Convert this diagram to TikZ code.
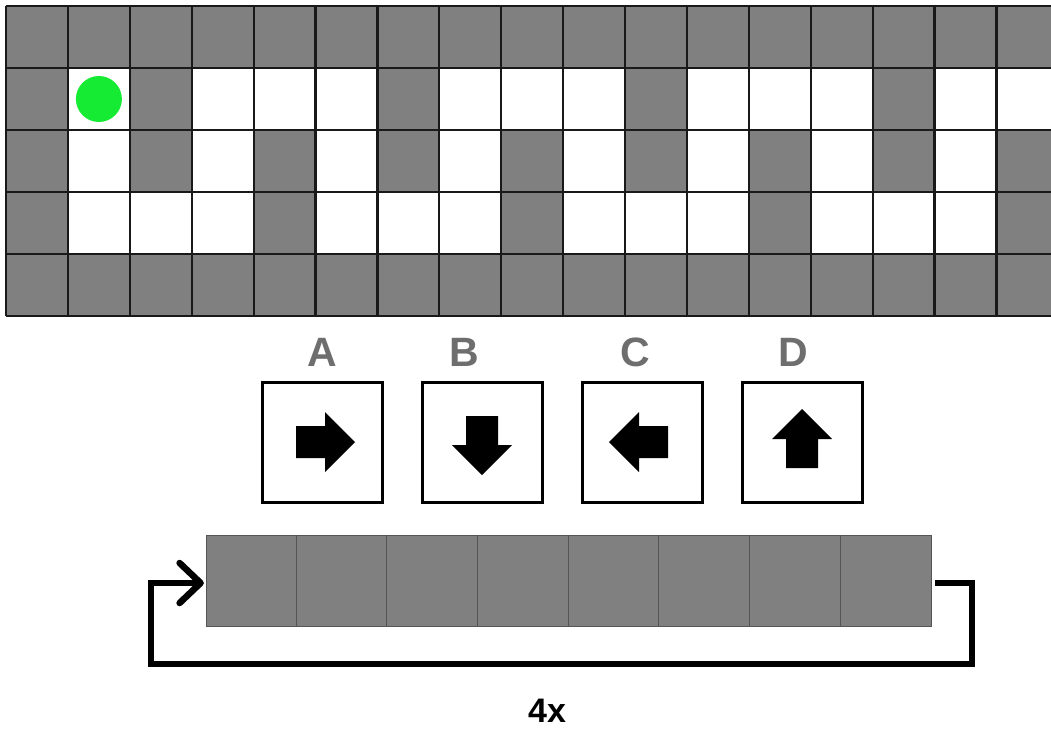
\documentclass[tikz,border=0pt]{standalone}
\usepackage{fontspec}
\setmainfont{Liberation Sans}
\definecolor{cellgray}{RGB}{128,128,128}
\definecolor{gridline}{RGB}{25,25,25}
\definecolor{dotgreen}{RGB}{20,235,50}
\definecolor{lettergray}{RGB}{110,110,110}
\definecolor{bargray}{RGB}{128,128,128}
\definecolor{bardiv}{RGB}{85,85,85}
\begin{document}
\begin{tikzpicture}[x=1pt,y=-1pt,
  gridstroke/.style={draw=gridline,line width=2.2pt},
  cmdbox/.style={draw=black,line width=3pt,fill=white,minimum width=120pt,minimum height=120pt,inner sep=0pt},
  cmdlabel/.style={text=lettergray,font=\bfseries\fontsize{41}{41}\selectfont,anchor=base,inner sep=0pt},
  arrowshape/.style={fill=black},
  loopline/.style={line width=6pt,line join=miter},
  chevron/.style={line width=6.5pt,line cap=round,line join=round},
  barcell/.style={draw=bardiv,line width=0.8pt},
]
\useasboundingbox (0,0) rectangle (1051,729);
\begin{scope}
\clip (0,0) rectangle (1051,729);
\fill[cellgray] (6,6) rectangle (1070,316);
\foreach \r/\cols in {1/{1,3,4,5,7,8,9,11,12,13,15,16}, 2/{1,3,5,7,9,11,13,15}, 3/{1,2,3,5,6,7,9,10,11,13,14,15}} {
  \foreach \c in \cols {
    \fill[white] ({6+61.9*\c},{6+62*\r}) rectangle ++(61.9,62);
  }
}
\foreach \k in {0,...,17} \draw[gridstroke] ({6+61.9*\k},6) -- ({6+61.9*\k},316);
\foreach \k in {0,...,5} \draw[gridstroke] (6,{6+62*\k}) -- (1070,{6+62*\k});
\fill[dotgreen] (98.9,99) circle (23pt);
\end{scope}

% command boxes
\node[cmdbox] (boxA) at (322,442) {};
\node[cmdbox] (boxB) at (482,442) {};
\node[cmdbox] (boxC) at (642,442) {};
\node[cmdbox] (boxD) at (802,442) {};
\node[cmdlabel] (labA) at (322,366) {A};
\node[cmdlabel] (labB) at (464,366) {B};
\node[cmdlabel] (labC) at (635,366) {C};
\node[cmdlabel] (labD) at (793,366) {D};
\foreach \b/\ang in {boxA/0,boxB/-90,boxC/180,boxD/90} {
  \fill[arrowshape,shift={(\b.center)},rotate=\ang]
    (-26,-16) -- (3,-16) -- (3,-30) -- (33,0) -- (3,30) -- (3,16) -- (-26,16) -- cycle;
}

% program bar
\node[barcell,fill=bargray,minimum width=725pt,minimum height=91pt,inner sep=0pt] (bar) at (568.5,580.5) {};
\foreach \k in {1,...,7}
  \draw[barcell] ([xshift={\k*90.625pt}]bar.north west) -- ([xshift={\k*90.625pt}]bar.south west);

\coordinate (loopstart) at ([xshift=4pt,yshift=-2.5pt]bar.east);
\coordinate (loopend) at ([xshift=-5pt,yshift=-2.5pt]bar.west);
\draw[loopline]
  (loopstart) -- ++(37,0) |- (151,664) |- (loopend);
\draw[chevron] ([shift={(-21,-20)}]loopend) -- (loopend) -- ([shift={(-21,20)}]loopend);

\node[font=\bfseries\fontsize{34}{34}\selectfont,anchor=base,inner sep=0pt] (reps) at (547,722) {4x};
\end{tikzpicture}
\end{document}
